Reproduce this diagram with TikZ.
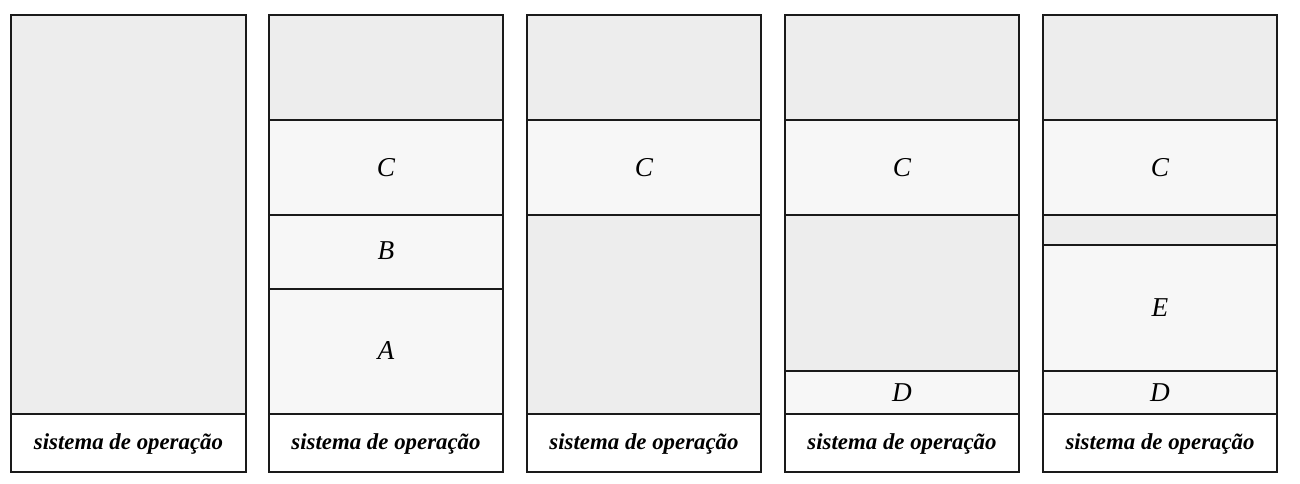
\documentclass[tikz,border=0pt]{standalone}
\usepackage{fontspec}
\setmainfont{Liberation Serif}
\definecolor{livrecor}{HTML}{EDEDED}
\definecolor{usadocor}{HTML}{F7F7F7}
\definecolor{linhacor}{HTML}{1A1A1A}
\begin{document}
\begin{tikzpicture}[x=0.02cm,y=-0.02cm,line width=0.9pt,
  livre/.style={draw=linhacor,fill=livrecor},
  usado/.style={draw=linhacor,fill=usadocor},
  sobloco/.style={draw=linhacor,fill=white},
  rot/.style={font=\fontsize{15.5}{19}\selectfont\itshape},
  sotexto/.style={font=\fontsize{13}{16}\selectfont\bfseries\itshape}]
  \useasboundingbox (0,0) rectangle (1300,483);
  % memoria 1: tudo livre
  \draw[livre] (11,15) rectangle (246,414);
  \draw[sobloco] (11,414) rectangle (246,472);
  \node[sotexto] (so1) at (128.5,444) {sistema de operação};
  % memoria 2: A, B, C
  \draw[livre] (269,15) rectangle (503,120);
  \draw[usado] (269,120) rectangle (503,215);
  \draw[usado] (269,215) rectangle (503,289);
  \draw[usado] (269,289) rectangle (503,414);
  \draw[sobloco] (269,414) rectangle (503,472);
  \node[rot] (c2) at (386,168) {C};
  \node[rot] (b2) at (386,251) {B};
  \node[rot] (a2) at (386,351) {A};
  \node[sotexto] (so2) at (386,444) {sistema de operação};
  % memoria 3: so C
  \draw[livre] (527,15) rectangle (761,120);
  \draw[usado] (527,120) rectangle (761,215);
  \draw[livre] (527,215) rectangle (761,414);
  \draw[sobloco] (527,414) rectangle (761,472);
  \node[rot] (c3) at (644,168) {C};
  \node[sotexto] (so3) at (644,444) {sistema de operação};
  % memoria 4: C e D
  \draw[livre] (785,15) rectangle (1019,120);
  \draw[usado] (785,120) rectangle (1019,215);
  \draw[livre] (785,215) rectangle (1019,371);
  \draw[usado] (785,371) rectangle (1019,414);
  \draw[sobloco] (785,414) rectangle (1019,472);
  \node[rot] (c4) at (902,168) {C};
  \node[rot] (d4) at (902,393) {D};
  \node[sotexto] (so4) at (902,444) {sistema de operação};
  % memoria 5: C, E e D
  \draw[livre] (1043,15) rectangle (1277,120);
  \draw[usado] (1043,120) rectangle (1277,215);
  \draw[livre] (1043,215) rectangle (1277,245);
  \draw[usado] (1043,245) rectangle (1277,371);
  \draw[usado] (1043,371) rectangle (1277,414);
  \draw[sobloco] (1043,414) rectangle (1277,472);
  \node[rot] (c5) at (1160,168) {C};
  \node[rot] (e5) at (1160,308) {E};
  \node[rot] (d5) at (1160,393) {D};
  \node[sotexto] (so5) at (1160,444) {sistema de operação};
\end{tikzpicture}
\end{document}
